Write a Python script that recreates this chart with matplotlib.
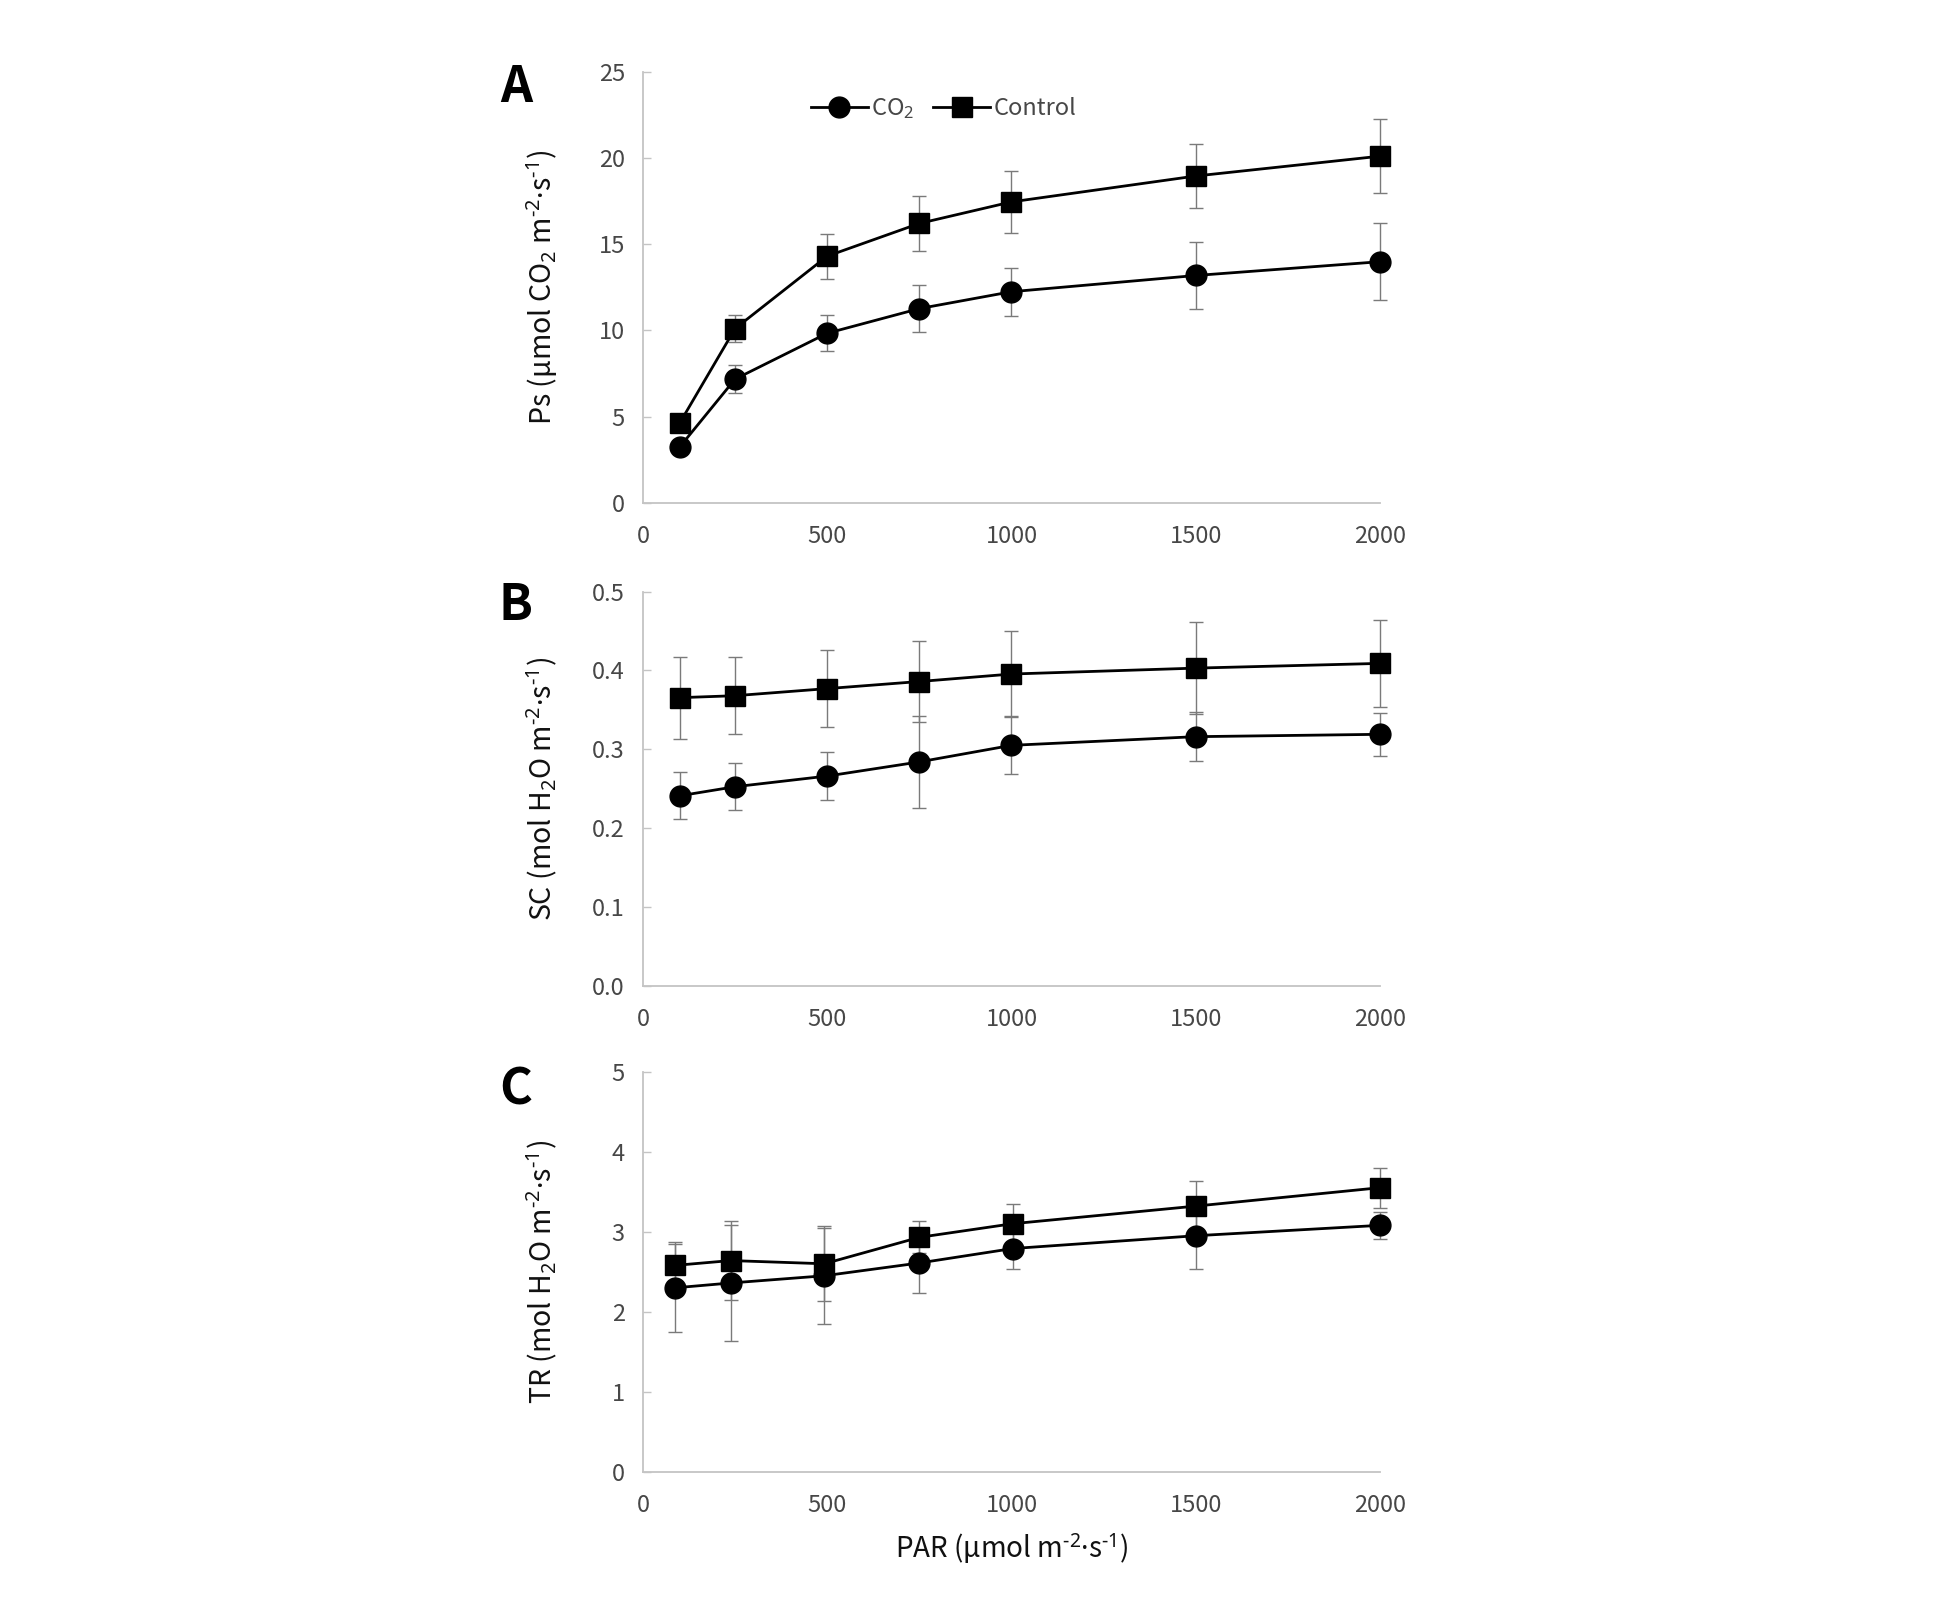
#!/usr/bin/env python3
"""
Light response curves: Ps, SC and TR under elevated CO2 vs control
"""

import matplotlib
matplotlib.use("Agg")
import matplotlib.pyplot as plt

plt.rcParams['font.family'] = ['Noto Sans CJK KR', 'DejaVu Sans']
plt.rcParams['mathtext.fontset'] = 'custom'
plt.rcParams['mathtext.rm'] = 'Noto Sans'
plt.rcParams['mathtext.it'] = 'Noto Sans'
plt.rcParams['mathtext.bf'] = 'Noto Sans:bold'

# PAR levels (umol m-2 s-1)
par = [100, 250, 500, 750, 1000, 1500, 2000]
par_c = [88, 238, 492, 750, 1003, 1500, 2000]

# A: photosynthesis rate
ps_co2 = [3.24, 7.17, 9.83, 11.26, 12.24, 13.18, 13.98]
ps_co2_err = [0.3, 0.83, 1.05, 1.35, 1.4, 1.95, 2.25]
ps_ctrl = [4.63, 10.1, 14.3, 16.2, 17.45, 18.95, 20.1]
ps_ctrl_err = [0.4, 0.8, 1.3, 1.6, 1.8, 1.85, 2.15]

# B: stomatal conductance
sc_co2 = [0.241, 0.2525, 0.266, 0.284, 0.305, 0.316, 0.319]
sc_co2_err = [0.030, 0.030, 0.030, 0.058, 0.037, 0.031, 0.027]
sc_ctrl = [0.3655, 0.368, 0.377, 0.386, 0.3955, 0.403, 0.409]
sc_ctrl_err = [0.052, 0.049, 0.049, 0.051, 0.055, 0.058, 0.055]

# C: transpiration rate
tr_co2 = [2.30, 2.36, 2.45, 2.61, 2.79, 2.95, 3.08]
tr_co2_err = [0.55, 0.73, 0.60, 0.37, 0.26, 0.41, 0.17]
tr_ctrl = [2.58, 2.64, 2.60, 2.93, 3.10, 3.32, 3.55]
tr_ctrl_err = [0.29, 0.49, 0.47, 0.20, 0.25, 0.31, 0.25]

spine_col = '#c4c4c4'
tick_col = '#474747'
err_col = '#7a7a7a'

# unit strings: short hyphen superscripts and a tight middle dot (Noto Sans via mathtext)
unit_tail = r'm$^{‐2}·$s$^{‐1}$)'

fig = plt.figure(figsize=(19.36, 15.97), dpi=100)

panels = [
    # letter, letter y, axes rect, x, co2, co2 err, ctrl, ctrl err, ymax, yticks, ylabel, fmt
    ('A', 0.9453, [0.3321, 0.6852, 0.3807, 0.2699], par, ps_co2, ps_co2_err, ps_ctrl, ps_ctrl_err,
     25, [0, 5, 10, 15, 20, 25], 'Ps (μmol CO$_2$ ' + unit_tail, '{:.0f}'),
    ('B', 0.6208, [0.3321, 0.3828, 0.3807, 0.2467], par, sc_co2, sc_co2_err, sc_ctrl, sc_ctrl_err,
     0.5, [0.0, 0.1, 0.2, 0.3, 0.4, 0.5], 'SC (mol H$_2$O ' + unit_tail, '{:.1f}'),
    ('C', 0.3175, [0.3321, 0.0783, 0.3807, 0.2507], par_c, tr_co2, tr_co2_err, tr_ctrl, tr_ctrl_err,
     5, [0, 1, 2, 3, 4, 5], 'TR (mol H$_2$O ' + unit_tail, '{:.0f}'),
]

axes = []
for letter, ly, rect, x, y1, e1, y2, e2, ymax, yticks, ylabel, fmt in panels:
    ax = fig.add_axes(rect)
    axes.append(ax)

    # error bars (thin grey, under the markers)
    for yy, ee in [(y1, e1), (y2, e2)]:
        eb = ax.errorbar(x, yy, yerr=ee, fmt='none', ecolor=err_col, elinewidth=1.0,
                         capsize=5.2, capthick=1.0, zorder=2)
        for art in eb.lines[1] + eb.lines[2]:
            art.set_clip_on(False)

    ax.plot(x, y1, color='black', lw=2.0, marker='o', markersize=15,
            label='CO$_2$', zorder=3, clip_on=False)
    ax.plot(x, y2, color='black', lw=2.0, marker='s', markersize=15,
            label='Control', zorder=3, clip_on=False)

    ax.set_xlim(0, 2000)
    ax.set_ylim(0, ymax)
    ax.set_xticks([0, 500, 1000, 1500, 2000])
    ax.set_yticks(yticks)
    ax.set_yticklabels([fmt.format(v) for v in yticks])

    for side in ['top', 'right']:
        ax.spines[side].set_visible(False)
    for side in ['left', 'bottom']:
        ax.spines[side].set_color(spine_col)
        ax.spines[side].set_linewidth(1.3)

    ax.tick_params(axis='y', direction='in', length=6, width=1.0, color=spine_col,
                   pad=13, labelsize=17, labelcolor=tick_col)
    ax.tick_params(axis='x', length=0, pad=16, labelsize=17, labelcolor=tick_col)
    for lab in ax.get_xticklabels() + ax.get_yticklabels():
        lab.set_fontweight('light')

    ax.set_ylabel(ylabel, fontsize=20.5, color='#111111', fontweight='medium')
    ax.yaxis.set_label_coords(-0.113, 0.5)

    fig.text(0.2665, ly, letter, fontsize=36, fontweight='bold',
             ha='center', va='center')

# legend in panel A
leg = axes[0].legend(loc='center left', bbox_to_anchor=(0.215, 0.915), ncol=2,
                     frameon=False, handlelength=2.4, handletextpad=0.15,
                     columnspacing=0.8, prop={'size': 17, 'weight': 'light'},
                     borderaxespad=0)
for t in leg.get_texts():
    t.set_color(tick_col)

axes[2].set_xlabel('PAR (μmol ' + unit_tail, fontsize=20, color='#111111',
                   fontweight='medium', labelpad=10)

fig.savefig('out.png', dpi=100)
plt.close(fig)
